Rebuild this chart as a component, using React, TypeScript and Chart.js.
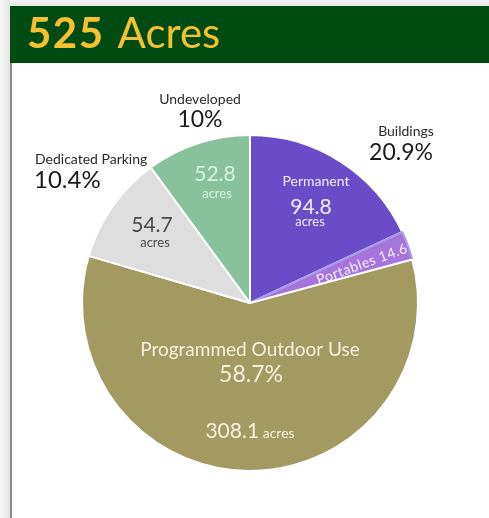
import React, { useEffect, useRef } from "react";
import { Chart, registerables } from "chart.js";

Chart.register(...registerables);

const title = "525";
const titleUnit = "Acres";
const categories = ["Permanent", "Portables", "Programmed Outdoor Use", "Dedicated Parking", "Undeveloped"];
const acres = [94.8, 14.6, 308.1, 54.7, 52.8];
const sliceColors = ["#6a4cc9", "#a575dc", "#a39a62", "#dedede", "#87c29d"];
const sliceBorders = ["#ffffff", "#a99cf2", "#ffffff", "#ffffff", "#ffffff"];
const groupNames = ["Buildings", "Undeveloped", "Dedicated Parking"];
const groupPercents = ["20.9%", "10%", "10.4%"];
const outdoorPercent = "58.7%";
const unit = "acres";

const FONT = "Lato, 'Noto Sans', sans-serif";

export default function App() {
  const ref = useRef<HTMLCanvasElement | null>(null);

  useEffect(() => {
    document.body.style.margin = "0";
    const canvas = ref.current;
    if (!canvas) return;

    const labelPlugin = {
      id: "labels",
      afterDraw(chart: any) {
        const ctx = chart.ctx as CanvasRenderingContext2D;
        const meta = chart.getDatasetMeta(0);
        const a0 = meta.data[0] as any;
        const cx = a0.x;
        const cy = a0.y;
        const txt = (s: string, x: number, y: number, size: number, color: string, weight = "normal", align: CanvasTextAlign = "center") => {
          ctx.save();
          ctx.font = `${weight} ${size}px ${FONT}`;
          ctx.fillStyle = color;
          ctx.textAlign = align;
          ctx.textBaseline = "middle";
          ctx.fillText(s, x, y);
          ctx.restore();
        };
        // header
        ctx.save();
        ctx.textBaseline = "alphabetic";
        ctx.textAlign = "left";
        ctx.fillStyle = "#f6c12c";
        (ctx as any).letterSpacing = "1.5px";
        ctx.font = `bold 42px ${FONT}`;
        ctx.fillText(title, 27, 48);
        const w = ctx.measureText(title).width;
        (ctx as any).letterSpacing = "0px";
        ctx.font = `normal 42px ${FONT}`;
        ctx.fillText(titleUnit, 27 + w + 13, 48);
        ctx.restore();

        // outside labels
        txt(groupNames[1], cx - 50, 99, 14, "#2a2a2a");
        txt(groupPercents[1], cx - 50, 120, 23, "#1a1a1a");
        txt(groupNames[0], cx + 156, 131, 14, "#2a2a2a");
        txt(groupPercents[0], cx + 151, 153, 23, "#1a1a1a");
        txt(groupNames[2], 35, 159, 14, "#2a2a2a", "normal", "left");
        txt(groupPercents[2], 34, 180, 24, "#1a1a1a", "normal", "left");

        // inside labels
        txt(categories[0], cx + 66, 181, 14, "#f2eeff");
        txt(String(acres[0]), cx + 61, 207, 21, "#f2eeff");
        txt(unit, cx + 60, 222, 13, "#f2eeff");

        txt(String(acres[4]), cx - 35, 174, 21, "#d6f3dc");
        txt(unit, cx - 33, 194, 13, "#d6f3dc");

        txt(String(acres[3]), cx - 98, 225, 21, "#4a4a4a");
        txt(unit, cx - 95, 243, 13, "#4a4a4a");

        txt(categories[2], cx, 350, 19, "#f4f0de");
        txt(outdoorPercent, cx + 1, 375, 23, "#f4f0de");
        ctx.save();
        ctx.font = `normal 21px ${FONT}`;
        const nw = ctx.measureText(String(acres[2])).width;
        ctx.font = `normal 14px ${FONT}`;
        const uw = ctx.measureText(" " + unit).width;
        ctx.restore();
        const startX = cx - (nw + uw) / 2;
        txt(String(acres[2]), startX, 431, 21, "#f4f0de", "normal", "left");
        txt(" " + unit, startX + nw, 433, 14, "#f4f0de", "normal", "left");

        // portables rotated
        const a1 = meta.data[1] as any;
        const mid = (a1.startAngle + a1.endAngle) / 2;
        const r = a1.outerRadius * 0.71;
        ctx.save();
        ctx.translate(cx + r * Math.cos(mid), cy + r * Math.sin(mid) + 2);
        ctx.rotate(mid);
        (ctx as any).letterSpacing = "0.5px";
        txt(categories[1] + " " + acres[1], 0, 0, 14, "#f4efff");
        ctx.restore();
      },
    };

    const chart = new Chart(canvas, {
      type: "pie",
      data: {
        labels: categories,
        datasets: [
          {
            data: acres,
            backgroundColor: sliceColors,
            borderColor: sliceBorders,
            borderWidth: 2,
          },
        ],
      },
      options: {
        responsive: false,
        animation: false,
        events: [],
        layout: { padding: { left: 81, right: 70, top: 134, bottom: 46 } },
        plugins: { legend: { display: false }, tooltip: { enabled: false } },
      },
      plugins: [labelPlugin],
    });
    return () => chart.destroy();
  }, []);

  return (
    <div style={{ position: "relative", width: 489, height: 518, background: "#ffffff", overflow: "hidden" }}>
      <div style={{ position: "absolute", left: 0, top: 0, width: 489, height: 6, background: "linear-gradient(#f4f4f4, #e6e6e6)" }} />
      <div style={{ position: "absolute", left: 0, top: 0, width: 10, height: 518, background: "linear-gradient(90deg, #f6f6f6, #e4e4e4)" }} />
      <div style={{ position: "absolute", left: 10, top: 63, width: 2, height: 455, background: "#8a8a8a" }} />
      <div style={{ position: "absolute", left: 10, top: 6, width: 479, height: 57, background: "#004b12" }} />
      <canvas ref={ref} width={489} height={518} style={{ position: "absolute", left: 0, top: 0, display: "block" }} />
    </div>
  );
}
